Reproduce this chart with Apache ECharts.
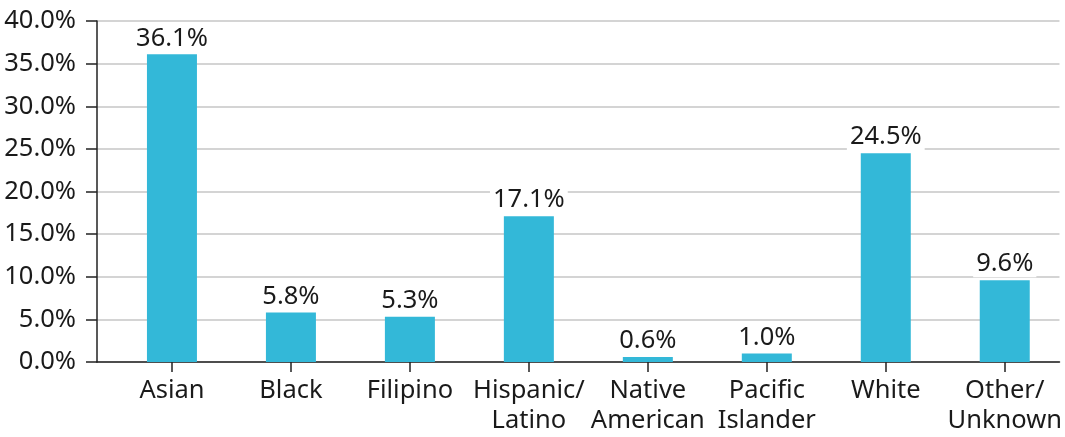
<!DOCTYPE html>
<html>
<head>
<meta charset="utf-8">
<script src="https://cdn.jsdelivr.net/npm/echarts@6/dist/echarts.min.js"></script>
<style>
  html, body { margin: 0; padding: 0; background: #fff; }
  #chart { width: 1065px; height: 437px; }
</style>
</head>
<body>
<div id="chart"></div>
<script>
  const categories = [
    "Asian",
    "Black",
    "Filipino",
    "Hispanic/\nLatino",
    "Native\nAmerican",
    "Pacific\nIslander",
    "White",
    "Other/\nUnknown",
  ];
  const percents = [36.1, 5.8, 5.3, 17.1, 0.6, 1.0, 24.5, 9.6];
  const yTicks = [0, 5, 10, 15, 20, 25, 30, 35, 40];

  const positions = categories.map((c, i) => i);
  const fontFamily = "'Noto Sans', 'Open Sans', sans-serif";
  const textColor = "#1a1a1a";
  const fontSize = 25.5;

  const chart = echarts.init(document.getElementById("chart"), null, {
    renderer: "canvas",
  });

  const options = {
    animation: false,
    textStyle: { fontFamily: fontFamily },
    grid: { left: 97, right: 5, top: 21, bottom: 75 },
    xAxis: {
      type: "value",
      min: -0.63,
      max: 7.46,
      splitLine: { show: false },
      axisLine: {
        onZero: false,
        lineStyle: { color: "#222", width: 1.5 },
      },
      axisTick: {
        show: true,
        length: 10,
        customValues: positions,
        lineStyle: { color: "#222", width: 1.5 },
      },
      axisLabel: {
        customValues: positions,
        margin: 14,
        color: textColor,
        fontSize: fontSize,
        lineHeight: 30,
        fontFamily: fontFamily,
        formatter: (v) => categories[Math.round(v)],
      },
    },
    yAxis: {
      type: "value",
      min: yTicks[0],
      max: yTicks[yTicks.length - 1],
      interval: 5,
      axisLine: {
        show: true,
        onZero: false,
        lineStyle: { color: "#222", width: 1.5 },
      },
      axisTick: {
        show: true,
        length: 11,
        lineStyle: { color: "#222", width: 1.5 },
      },
      axisLabel: {
        margin: 21,
        color: textColor,
        fontSize: fontSize,
        fontFamily: fontFamily,
        formatter: (v) => v.toFixed(1) + "%",
      },
      splitLine: {
        show: true,
        lineStyle: { color: "#c6c6c6", width: 1.5 },
      },
    },
    series: [
      {
        type: "bar",
        barWidth: 50,
        itemStyle: { color: "#33b8d8" },
        data: percents.map((v, i) => [positions[i], v]),
        label: {
          show: true,
          position: "top",
          distance: 3,
          color: textColor,
          fontSize: fontSize,
          fontFamily: fontFamily,
          backgroundColor: "#fff",
          padding: [0, 3],
          formatter: (p) => p.value[1].toFixed(1) + "%",
        },
      },
    ],
  };

  chart.setOption(options);
</script>
</body>
</html>
